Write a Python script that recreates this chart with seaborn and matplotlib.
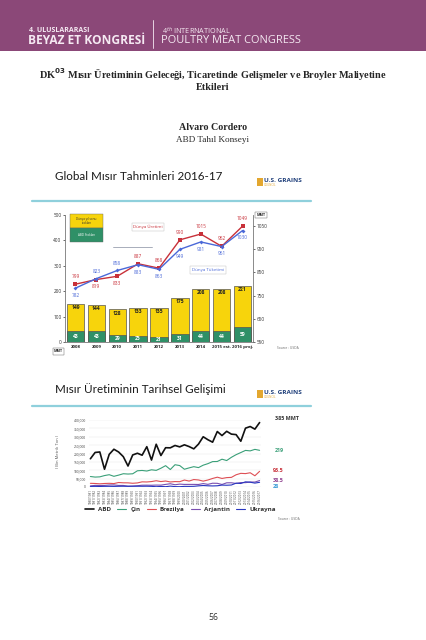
import numpy as np
import pandas as pd
import matplotlib
matplotlib.use("Agg")
import matplotlib.pyplot as plt
import seaborn as sns
from matplotlib.patches import Rectangle
from matplotlib.lines import Line2D
from matplotlib.ticker import FuncFormatter

# --- veriler: Global Mısır Tahminleri 2016-17 (MMT)
yillar = ["2008", "2009", "2010", "2011", "2012", "2013", "2014", "2015 est.", "2016 proj."]
dunya_stok = [149, 144, 128, 133, 135, 175, 208, 208, 221]
abd_stok = [43, 43, 29, 25, 21, 31, 44, 44, 59]
dunya_uretim = [799, 819, 833, 887, 868, 990, 1015, 962, 1049]
dunya_tuketim = [782, 823, 858, 883, 863, 949, 981, 961, 1030]

# --- veriler: Mısır üretiminin tarihsel gelişimi (bin metrik ton)
sezonlar = ["1980/1981", "1981/1982", "1982/1983", "1983/1984", "1984/1985", "1985/1986",
            "1986/1987", "1987/1988", "1988/1989", "1989/1990", "1990/1991", "1991/1992",
            "1992/1993", "1993/1994", "1994/1995", "1995/1996", "1996/1997", "1997/1998",
            "1998/1999", "1999/2000", "2000/2001", "2001/2002", "2002/2003", "2003/2004",
            "2004/2005", "2005/2006", "2006/2007", "2007/2008", "2008/2009", "2009/2010",
            "2010/2011", "2011/2012", "2012/2013", "2013/2014", "2014/2015", "2015/2016",
            "2016/2017"]
abd = [168647, 206222, 209180, 106037, 194881, 225453, 208944, 181142, 125194, 191320,
       201534, 189866, 240719, 160986, 255295, 187970, 234527, 233867, 247882, 239549,
       251854, 241377, 227765, 256229, 299876, 282263, 267503, 331177, 307142, 332549,
       315618, 312789, 273192, 351272, 361091, 345486, 384778]
cin = [62600, 59210, 60560, 68210, 73410, 63830, 70860, 79240, 77350, 78930,
       96820, 98770, 95380, 102700, 99280, 111990, 127470, 104310, 132950, 128080,
       106000, 114088, 121300, 115830, 130290, 139365, 151600, 152300, 165900, 158000,
       177245, 192904, 205614, 218489, 215646, 224632, 219000]
brezilya = [22000, 21000, 19000, 21000, 22000, 20500, 26800, 25000, 24750, 22260,
            24350, 30770, 30060, 32480, 37440, 32480, 35700, 30100, 32400, 31640,
            41536, 35500, 44500, 42000, 35000, 41700, 51000, 58600, 51000, 56100,
            57400, 73000, 81500, 80000, 85000, 67000, 93500]
arjantin = [6400, 9600, 9000, 9500, 11900, 12400, 9300, 9200, 4900, 5400,
            7700, 10700, 10900, 10400, 11400, 11100, 15500, 19400, 13500, 17200,
            15400, 15500, 15500, 15000, 20500, 15800, 22500, 22000, 15000, 25000,
            25200, 21200, 26500, 26000, 29800, 29500, 38500]
ukrayna = [3500, 3800, 3200, 3900, 4100, 3600, 4300, 4500, 4200, 4600,
           4700, 4400, 4700, 3900, 1500, 3400, 1800, 5300, 2300, 1700,
           3800, 3600, 4200, 6900, 8900, 7200, 6400, 7400, 11400, 10500,
           11900, 22800, 20900, 30900, 28500, 23300, 28000]

sns.set_theme(style="white")
plt.rcParams['font.family'] = ['Open Sans', 'DejaVu Sans']

W, H = 426, 640
fig = plt.figure(figsize=(4.26, 6.4), dpi=100)


def fx(x):
    return x / W


def fy(y):
    return 1 - y / H


def ftext(x, y, s, **kw):
    fig.text(fx(x), fy(y), s, **kw)


# --- üst bant
fig.patches.append(Rectangle((0, fy(51)), 1, 51 / H, transform=fig.transFigure,
                             facecolor="#8b4878", edgecolor="none", zorder=0))
hc = "#f5e9f2"
ftext(29, 31, "4. ULUSLARARASI", fontsize=5.0, color=hc, va="center", weight="bold")
ftext(28, 40, "BEYAZ ET KONGRESİ", fontsize=8.6, color=hc, va="center", weight="bold")
fig.add_artist(Line2D([fx(153), fx(153)], [fy(20), fy(48)], color=hc, lw=0.6,
                      transform=fig.transFigure))
ftext(162, 30.5, "4$^{th}$ INTERNATIONAL", fontsize=5.2, color=hc, va="center")
ftext(161, 40.5, "POULTRY MEAT CONGRESS", fontsize=7.9, color=hc, va="center")

# --- başlık
serif = ['Liberation Serif', 'DejaVu Serif']
ftext(213, 74, "DK$^{\\mathbf{03}}$ Mısır Üretiminin Geleceği, Ticaretinde Gelişmeler ve Broyler Maliyetine",
      fontsize=7.4, family=serif, weight="bold", ha="center", va="center")
ftext(213, 87, "Etkileri", fontsize=7.4, family=serif, weight="bold", ha="center", va="center")
ftext(213, 128, "Alvaro Cordero", fontsize=7.2, family=serif, weight="bold", ha="center", va="center")
ftext(213, 140, "ABD Tahıl Konseyi", fontsize=6.6, family=serif, ha="center", va="center")


def slayt_basligi(y_title, y_line, title):
    ftext(55, y_title, title, fontsize=8.4, color="#1a1a1a", va="center",
          family=['Lato', 'DejaVu Sans'])
    fig.add_artist(Line2D([fx(32), fx(311)], [fy(y_line), fy(y_line)], color="#8fd0dc",
                          lw=1.6, transform=fig.transFigure))
    fig.patches.append(Rectangle((fx(257), fy(y_title + 9)), 6 / W, 8 / H,
                                 transform=fig.transFigure, facecolor="#e3a72f",
                                 edgecolor="none"))
    ftext(264, y_title + 3.5, "U.S. GRAINS", fontsize=4.6, color="#1f3f7a", weight="bold",
          va="center")
    ftext(264, y_title + 8, "COUNCIL", fontsize=2.2, color="#e3a72f", va="center")


slayt_basligi(177, 201, "Global Mısır Tahminleri 2016-17")
slayt_basligi(389, 406, "Mısır Üretiminin Tarihsel Gelişimi")

# --- grafik 1
ax1 = fig.add_axes([fx(65), fy(342), (253 - 65) / W, (342 - 215) / H])
df1 = pd.DataFrame({"yil": yillar, "dunya": dunya_stok, "abd": abd_stok})
sns.barplot(data=df1, x="yil", y="dunya", color="#f7d40c", edgecolor="#555555",
            linewidth=0.5, width=0.83, saturation=1, ax=ax1)
sns.barplot(data=df1, x="yil", y="abd", color="#2f9067", edgecolor="#555555",
            linewidth=0.5, width=0.83, saturation=1, ax=ax1)
ax1.set_xlim(-0.5, 8.5)
ax1.set_ylim(0, 500)
ax1.set_yticks(range(0, 501, 100))
ax1.set_xlabel("")
ax1.set_ylabel("")
ax1.tick_params(axis="y", left=True, length=1.5, width=0.5, labelsize=3.4, pad=1,
                colors="#333333")
ax1.tick_params(axis="x", length=0, labelsize=3.2, pad=2)
for lbl in ax1.get_xticklabels():
    lbl.set_fontweight("bold")
for s in ["top", "right"]:
    ax1.spines[s].set_visible(False)
for s in ["left", "bottom"]:
    ax1.spines[s].set_color("#777777")
    ax1.spines[s].set_linewidth(0.6)
for i, (d, a) in enumerate(zip(dunya_stok, abd_stok)):
    ax1.text(i, d - 4, str(d), ha="center", va="top", fontsize=3.6, weight="bold",
             color="#222222")
    ax1.text(i, a / 2, str(a), ha="center", va="center", fontsize=3.6, weight="bold",
             color="white")

ax1r = ax1.twinx()
xs = np.arange(len(yillar))
sns.lineplot(x=xs, y=dunya_uretim, color="#c8313a", marker="s", markersize=2.2,
             markeredgewidth=0, linewidth=1.0, ax=ax1r)
sns.lineplot(x=xs, y=dunya_tuketim, color="#4a68d8", marker="D", markersize=2.0,
             markeredgewidth=0, linewidth=1.0, ax=ax1r)
ax1r.set_ylim(550, 1097)
ax1r.set_yticks(range(550, 1051, 100))
ax1r.tick_params(axis="y", right=True, length=1.5, width=0.5, labelsize=3.4, pad=1,
                 colors="#333333")
for s in ["top", "left", "bottom"]:
    ax1r.spines[s].set_visible(False)
ax1r.spines["right"].set_color("#777777")
ax1r.spines["right"].set_linewidth(0.6)
for i, (p, c) in enumerate(zip(dunya_uretim, dunya_tuketim)):
    p_ust = p >= c
    ax1r.annotate(str(p), (i, p), xytext=(0, 3.5 if p_ust else -3.5), textcoords="offset points",
                  ha="center", va="bottom" if p_ust else "top", fontsize=3.4, color="#c8313a")
    ax1r.annotate(str(c), (i, c), xytext=(0, -3.5 if p_ust else 3.5), textcoords="offset points",
                  ha="center", va="top" if p_ust else "bottom", fontsize=3.4, color="#4a68d8")

# grafik 1 göstergeleri
fig.patches.append(Rectangle((fx(70), fy(228)), 33 / W, 14 / H, transform=fig.transFigure,
                             facecolor="#f7d40c", edgecolor="#666666", lw=0.3))
fig.patches.append(Rectangle((fx(70), fy(242)), 33 / W, 14 / H, transform=fig.transFigure,
                             facecolor="#2f9067", edgecolor="#666666", lw=0.3))
ftext(86.5, 221, "Dünya yıl sonu\nstokları", fontsize=2.2, ha="center", va="center",
      color="#333333", linespacing=1.1)
ftext(86.5, 235, "ABD Stokları", fontsize=2.2, ha="center", va="center", color="white")
ftext(148, 227, "Dünya Üretimi", fontsize=3.2, color="#c8313a", ha="center", va="center",
      bbox=dict(boxstyle="square,pad=0.35", fc="white", ec="#bbbbbb", lw=0.3))
ftext(208, 270, "Dünya Tüketimi", fontsize=3.2, color="#4a68d8", ha="center", va="center",
      bbox=dict(boxstyle="square,pad=0.35", fc="white", ec="#bbbbbb", lw=0.3))
fig.add_artist(Line2D([fx(113), fx(152)], [fy(247), fy(247)], color="#9aa0b0", lw=0.6,
                      transform=fig.transFigure))
ftext(58.5, 351.5, "MMT", fontsize=2.6, ha="center", va="center", weight="bold",
      bbox=dict(boxstyle="square,pad=0.3", fc="white", ec="#555555", lw=0.3))
ftext(261, 215, "MMT", fontsize=2.6, ha="center", va="center", weight="bold",
      bbox=dict(boxstyle="square,pad=0.3", fc="white", ec="#555555", lw=0.3))
ftext(277, 348, "Source : USDA", fontsize=2.3, color="#666666", va="center")

# --- grafik 2
ax2 = fig.add_axes([fx(89), fy(487), (261 - 89) / W, (487 - 420) / H])
ulkeler = ["ABD", "Çin", "Brezilya", "Arjantin", "Ukrayna"]
seriler = [abd, cin, brezilya, arjantin, ukrayna]
renkler = ["#111111", "#3a9f78", "#de4f55", "#7a4fb0", "#2836c0"]
kalinlik = [1.2, 0.8, 0.8, 0.8, 0.8]
xi = np.arange(len(sezonlar))
for ad, seri, renk, lw in zip(ulkeler, seriler, renkler, kalinlik):
    sns.lineplot(x=xi, y=seri, color=renk, linewidth=lw, label=ad, ax=ax2)
ax2.set_xlim(-0.3, len(sezonlar) - 0.7)
ax2.set_ylim(0, 400000)
ax2.set_yticks(range(0, 400001, 50000))
ax2.yaxis.set_major_formatter(FuncFormatter(lambda v, _: f"{v:,.0f}"))
ax2.set_xticks(xi)
ax2.set_xticklabels(sezonlar, rotation=90)
ax2.tick_params(axis="y", labelsize=2.4, pad=2, colors="#444444", length=0)
ax2.tick_params(axis="x", labelsize=2.2, pad=1.5, colors="#444444", length=0)
ax2.grid(axis="y", color="#e4e4e4", lw=0.3)
for s in ax2.spines.values():
    s.set_visible(False)
ax2.legend(loc="center", bbox_to_anchor=(0.53, -0.34), ncol=5, frameon=False,
           prop={"size": 4.5, "weight": "bold"}, handlelength=1.5, handletextpad=0.6,
           columnspacing=1.0, borderaxespad=0)
for t in ax2.get_legend().get_texts():
    t.set_color("#333333")
ftext(58, 452, "( Bin Metrik Ton )", fontsize=3.0, rotation=90, ha="center", va="center",
      color="#555555")
ftext(275, 418, "385 MMT", fontsize=3.9, weight="bold", color="#333333", va="center")
ftext(275, 450, "219", fontsize=3.9, weight="bold", color="#3a9f78", va="center")
ftext(273, 471, "93.5", fontsize=3.9, weight="bold", color="#c8313a", va="center")
ftext(273, 480, "38.5", fontsize=3.9, weight="bold", color="#8e3f8e", va="center")
ftext(273, 486.5, "28", fontsize=3.9, weight="bold", color="#3b9bd6", va="center")
ftext(278, 519, "Source : USDA", fontsize=2.3, color="#666666", va="center")

# --- sayfa numarası
ftext(213, 618, "56", fontsize=6.2, ha="center", va="center", color="#333333")

plt.savefig("out.png", dpi=100)
